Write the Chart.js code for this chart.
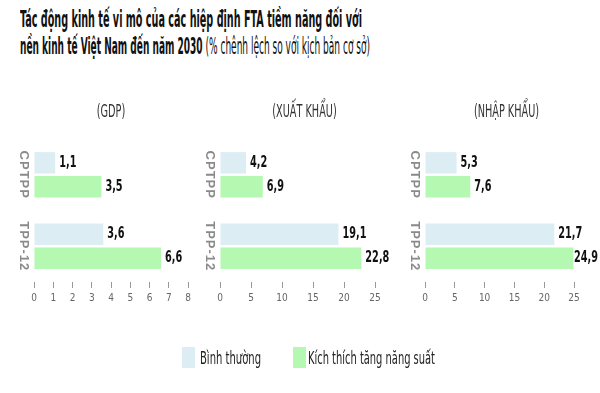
<!DOCTYPE html>
<html>
<head>
<meta charset="utf-8">
<script src="https://cdn.jsdelivr.net/npm/chart.js@4"></script>
<style>
  body { margin:0; background:#fff; width:600px; height:393px; overflow:hidden; position:relative;
         font-family:"Liberation Sans Narrow","DejaVu Sans Condensed","Roboto",sans-serif; }
  .line { position:absolute; left:20px; white-space:nowrap; transform-origin:0 50%; color:#111; font-size:23px; line-height:26px; }
  .line b { font-weight:bold; }
  .line span { font-weight:normal; }
  .panel { position:absolute; top:0; }
  .lg-box { position:absolute; top:347px; width:13px; height:21px; }
  .lg-text { position:absolute; top:347px; font-size:18px; line-height:22px; color:#222; white-space:nowrap; transform-origin:0 50%; }
</style>
</head>
<body>
<div class="line" id="t1" data-w="342" style="top:6px"><b>Tác động kinh tế vi mô của các hiệp định FTA tiềm năng đối với</b></div>
<div class="line" id="t2" data-w="350" style="top:33px"><b>nền kinh tế Việt Nam đến năm 2030</b> <span>(% chênh lệch so với kịch bản cơ sở)</span></div>

<div class="panel" style="left:0"><canvas id="c1" width="200" height="393"></canvas></div>
<div class="panel" style="left:200px"><canvas id="c2" width="200" height="393"></canvas></div>
<div class="panel" style="left:400px"><canvas id="c3" width="200" height="393"></canvas></div>

<div class="lg-box" style="left:182px;background:#ddedf4"></div>
<div class="lg-text" id="l1" data-w="61" style="left:200px">Bình thường</div>
<div class="lg-box" style="left:293px;background:#b4f8b2"></div>
<div class="lg-text" id="l2" data-w="127" style="left:308px">Kích thích tăng năng suất</div>

<script>
const categories = ['CPTPP', 'TPP-12'];
const seriesNames = ['Bình thường', 'Kích thích tăng năng suất'];
const panelTitles = ['(GDP)', '(XUẤT KHẨU)', '(NHẬP KHẨU)'];

const gdpNormal = [1.1, 3.6];
const gdpBoost = [3.5, 6.6];
const exportNormal = [4.2, 19.1];
const exportBoost = [6.9, 22.8];
const importNormal = [5.3, 21.7];
const importBoost = [7.6, 24.9];

const gdpAxisMax = 8, gdpStep = 1;
const tradeAxisMax = 25, tradeStep = 5;

const colNormal = '#ddedf4';
const colBoost = '#b4f8b2';
const narrow = '"Liberation Sans Narrow","DejaVu Sans Condensed",sans-serif';

// squeeze the html text lines to the reference width
document.querySelectorAll('[data-w]').forEach(el => {
  const w = el.getBoundingClientRect().width;
  el.style.transform = 'scaleX(' + (+el.dataset.w / w) + ')';
});

// text squeezed horizontally (the original uses a condensed face)
function squeezed(ctx, text, x, y, align, sx) {
  const w = ctx.measureText(text).width * sx;
  let left = x;
  if (align === 'center') left = x - w / 2;
  if (align === 'right') left = x - w;
  ctx.save();
  ctx.translate(left, y);
  ctx.scale(sx, 1);
  ctx.textAlign = 'left';
  ctx.fillText(text, 0, 0);
  ctx.restore();
  return w;
}

const decor = {
  id: 'decor',
  afterDatasetsDraw(chart, args, opts) {
    const ctx = chart.ctx, ca = chart.chartArea;
    ctx.save();
    ctx.textBaseline = 'middle';
    // value labels
    ctx.fillStyle = '#111';
    ctx.font = 'bold 15px ' + narrow;
    chart.data.datasets.forEach((ds, i) => {
      chart.getDatasetMeta(i).data.forEach((bar, j) => {
        const txt = String(ds.data[j]).replace('.', ',');
        const w = ctx.measureText(txt).width * 0.72;
        const x = Math.min(bar.x + 4, chart.width - w - 2);
        squeezed(ctx, txt, x, bar.y, 'left', 0.72);
      });
    });
    // rotated category labels
    const ys = chart.scales.y;
    ctx.fillStyle = '#8a8a8a';
    ctx.font = 'bold 13px "Liberation Sans",Arial,sans-serif';
    ctx.textAlign = 'center';
    ctx.letterSpacing = '1px';
    chart.data.labels.forEach((lab, j) => {
      ctx.save();
      ctx.translate(ca.left - 10, ys.getPixelForValue(j));
      ctx.rotate(Math.PI / 2);
      ctx.fillText(lab, 0, 0);
      ctx.restore();
    });
    ctx.letterSpacing = '0px';
    // panel title
    ctx.fillStyle = '#333';
    ctx.font = '18px ' + narrow;
    squeezed(ctx, opts.title, (ca.left + ca.right) / 2 + opts.shift, 112, 'center', 0.6);
    ctx.restore();
  }
};

function makePanel(id, title, normal, boost, max, step, padL, padR, shift) {
  return new Chart(document.getElementById(id), {
    type: 'bar',
    data: {
      labels: categories,
      datasets: [
        { label: seriesNames[0], data: normal, backgroundColor: colNormal },
        { label: seriesNames[1], data: boost, backgroundColor: colBoost }
      ]
    },
    options: {
      indexAxis: 'y',
      responsive: false,
      animation: false,
      categoryPercentage: 0.667,
      barPercentage: 0.9,
      layout: { padding: { top: 139, bottom: 85, left: padL, right: padR } },
      scales: {
        y: { display: false },
        x: {
          min: 0, max: max,
          grid: { drawOnChartArea: false, drawTicks: true, tickLength: 6, color: '#999' },
          border: { display: false },
          ticks: { stepSize: step, padding: 4, color: '#666', font: { size: 10, family: narrow } }
        }
      },
      plugins: {
        legend: { display: false },
        tooltip: { enabled: false },
        decor: { title: title, shift: shift }
      }
    },
    plugins: [decor]
  });
}

makePanel('c1', panelTitles[0], gdpNormal, gdpBoost, gdpAxisMax, gdpStep, 34, 12, 0);
makePanel('c2', panelTitles[1], exportNormal, exportBoost, tradeAxisMax, tradeStep, 20, 25, 7);
makePanel('c3', panelTitles[2], importNormal, importBoost, tradeAxisMax, tradeStep, 25, 26, 7);
</script>
</body>
</html>
